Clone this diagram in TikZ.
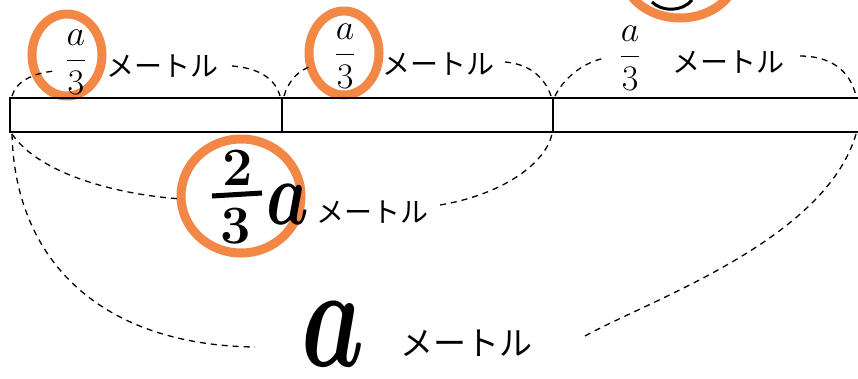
\RequirePackage{fix-cm}
\documentclass[tikz,border=0pt]{standalone}
\usepackage{fontspec}
\newfontfamily\jp{Noto Sans CJK JP}
\definecolor{orangec}{RGB}{242,135,70}
\begin{document}
\begin{tikzpicture}[x=1pt,y=-1pt,
  barline/.style={line width=1.7pt},
  dsh/.style={line width=1.3pt, dash pattern=on 6pt off 5pt},
  orng/.style={draw=orangec, line width=9pt},
  jlbl/.style={inner sep=0pt, font=\jp\fontsize{28}{28}\selectfont},
  frc/.style={inner sep=0pt, font=\fontsize{36}{36}\selectfont},
  bignum/.style={inner sep=0pt, font=\fontsize{54}{54}\selectfont\bfseries},
  ]
\useasboundingbox (0,0) rectangle (858,378);
\clip (0,0) rectangle (858,378);
% coordinates on the bar
\coordinate (TL) at (10,98);
\coordinate (TD1) at (282,98);
\coordinate (TD2) at (553,98);
\coordinate (TR) at (870,98);
\coordinate (BL) at (10,132);
\coordinate (BD2) at (553,132);
\coordinate (BR) at (870,132);
% orange circles
\draw[orng] (67,55) ellipse (35 and 41);
\draw[orng] (344,53) ellipse (35 and 42);
\draw[orng] (241,196) ellipse (60 and 57);
\draw[orng] (680,-30) ellipse (58 and 48);
\draw[line width=3pt] (652,2) .. controls (662,12) and (682,12) .. (692,0);
% bar
\draw[barline] (TL) rectangle (BR);
\draw[barline] (TD1) -- (282,132);
\draw[barline] (TD2) -- (BD2);
% top labels
\node[frc] (f1) at (76,62) {$\displaystyle\frac{a}{3}$};
\node[jlbl] (m1) at (162,66) {メートル};
\node[frc] (f2) at (345,56) {$\displaystyle\frac{a}{3}$};
\node[jlbl] (m2) at (438,64) {メートル};
\node[frc] (f3) at (630,58) {$\displaystyle\frac{a}{3}$};
\node[jlbl] (m3) at (728,62) {メートル};
% lower labels: 2/3 a
\node[bignum] (n2) at (238,168) {2};
\node[bignum] (n3) at (236,226) {3};
\draw[line width=5pt] (212,196) -- (262,193);
\node[inner sep=0pt, font=\fontsize{90}{90}\selectfont\boldmath] (a4) at (288,204) {\scalebox{0.75}[1]{$a$}};
\node[jlbl] (m4) at (372,212) {メートル};
% a metre
\node[inner sep=0pt, font=\fontsize{100}{100}\selectfont\boldmath] (a5) at (333,334) {\scalebox{1.0}[1.45]{$a$}};
\node[jlbl, font=\jp\fontsize{33}{33}\selectfont] (m5) at (466,343) {メートル};
% dash endpoints
\coordinate (u1a) at (55,71);
\coordinate (u1b) at (232,66);
\coordinate (u2a) at (312,66);
\coordinate (u2b) at (505,62);
\coordinate (u3a) at (605,58);
\coordinate (u3b) at (800,56);
\coordinate (l1a) at (182,199);
\coordinate (l1b) at (440,205);
\coordinate (l2a) at (255,347);
\coordinate (l2b) at (585,336);
% top dashed arcs
\draw[dsh] (12,96) .. controls (16,82) and (32,73) .. (u1a);
\draw[dsh] (u1b) .. controls (258,68) and (275,78) .. (280,96);
\draw[dsh] (284,96) .. controls (288,82) and (298,70) .. (u2a);
\draw[dsh] (u2b) .. controls (530,64) and (545,78) .. (551,96);
\draw[dsh] (555,96) .. controls (565,76) and (585,62) .. (u3a);
\draw[dsh] (u3b) .. controls (830,56) and (850,70) .. (856,96);
% lower dashed arcs
\draw[dsh] (12,134) .. controls (40,175) and (120,195) .. (l1a);
\draw[dsh] (l1b) .. controls (500,195) and (545,165) .. (552,134);
\draw[dsh] (12,134) .. controls (15,260) and (100,345) .. (l2a);
\draw[dsh] (l2b) .. controls (650,300) and (825,240) .. (856,134);
\end{tikzpicture}
\end{document}
